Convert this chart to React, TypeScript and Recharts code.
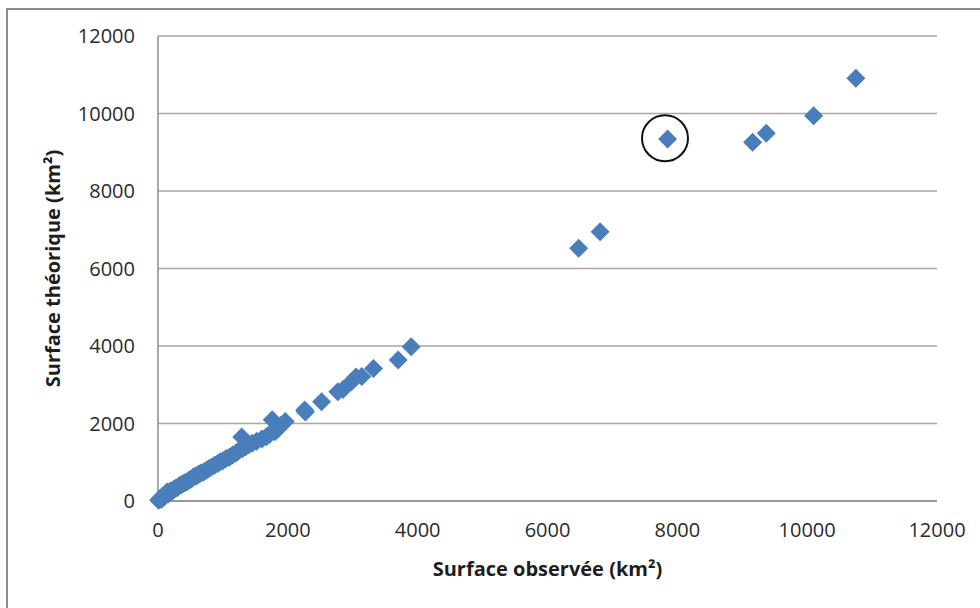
import {
  CartesianGrid,
  Label,
  ReferenceDot,
  Scatter,
  ScatterChart,
  XAxis,
  YAxis,
} from "recharts";

// surface observée (km²)
const observed = [
  10, 30, 50, 70, 90, 120, 140, 160, 190, 210, 240, 270, 300, 330, 360, 390,
  420, 450, 480, 510, 540, 570, 600, 630, 660, 700, 740, 780, 820, 870, 920,
  960, 1000, 1050, 1100, 1150, 1200, 1240, 1290, 1300, 1350, 1400, 1450, 1520,
  1600, 1670, 1720, 1760, 1800, 1840, 1890, 1960, 2260, 2270, 2520, 2770, 2850,
  2980, 3050, 3140, 3320, 3700, 3900, 6480, 6810, 7850, 9160, 9370, 10100,
  10750,
];

// surface théorique (km²)
const theoretical = [
  20, 60, 40, 120, 100, 160, 230, 180, 260, 240, 300, 330, 350, 400, 420, 450,
  480, 500, 540, 560, 610, 640, 650, 700, 720, 740, 790, 830, 870, 920, 970,
  1010, 1040, 1100, 1130, 1190, 1240, 1290, 1650, 1350, 1400, 1450, 1490, 1540,
  1600, 1660, 1720, 2100, 1790, 1850, 1950, 2050, 2350, 2300, 2560, 2820, 2880,
  3080, 3200, 3210, 3420, 3640, 3980, 6520, 6950, 9340, 9260, 9490, 9940,
  10910,
];

const ticks = [0, 2000, 4000, 6000, 8000, 10000, 12000];

// the outlier that is circled
const circled = { x: 7810, y: 9360 };

const points = observed.map((x, i) => ({ x, y: theoretical[i] }));

const font = "'Open Sans', 'Noto Sans', sans-serif";
const tickStyle = { fontFamily: font, fontSize: 20, fill: "#2b2b2b" };
const titleStyle = { fontFamily: font, fontSize: 20, fontWeight: 700, fill: "#1e1e1e" };

function Diamond(props: any) {
  const { cx, cy } = props;
  const r = 9.5;
  return (
    <path
      d={`M${cx},${cy - r}L${cx + r},${cy}L${cx},${cy + r}L${cx - r},${cy}Z`}
      fill="#4a7ebb"
    />
  );
}

export default function App() {
  return (
    <div
      style={{
        position: "absolute",
        left: 0,
        top: 0,
        width: 980,
        height: 608,
        overflow: "hidden",
        background: "#fff",
      }}
    >
      <div
        style={{
          position: "absolute",
          left: 6,
          top: 8,
          width: 1100,
          height: 700,
          border: "2px solid #8c8c8c",
        }}
      />
      <div style={{ position: "absolute", left: 0, top: 0 }}>
        <ScatterChart
          width={980}
          height={608}
          margin={{ top: 36, right: 43, left: 0, bottom: 0 }}
        >
          <CartesianGrid vertical={false} stroke="#a6a6a6" strokeWidth={1.5} />
          <XAxis
            type="number"
            dataKey="x"
            domain={[0, 12000]}
            ticks={ticks}
            height={107}
            axisLine={{ stroke: "#8c8c8c", strokeWidth: 1.5 }}
            tickLine={false}
            tickSize={0}
            tickMargin={22}
            tick={tickStyle}
          >
            <Label
              value="Surface observée (km²)"
              position="insideBottom"
              offset={32}
              style={titleStyle}
            />
          </XAxis>
          <YAxis
            type="number"
            dataKey="y"
            domain={[0, 12000]}
            ticks={ticks}
            width={158}
            axisLine={{ stroke: "#8c8c8c", strokeWidth: 1.5 }}
            tickLine={false}
            tickSize={0}
            tickMargin={23}
            tick={tickStyle}
          >
            <Label
              value="Surface théorique (km²)"
              angle={-90}
              position="insideLeft"
              offset={53}
              style={{ ...titleStyle, textAnchor: "middle" }}
            />
          </YAxis>
          <Scatter data={points} shape={Diamond} isAnimationActive={false} />
          <ReferenceDot
            x={circled.x}
            y={circled.y}
            r={23}
            fill="none"
            stroke="#111"
            strokeWidth={2}
          />
        </ScatterChart>
      </div>
    </div>
  );
}
